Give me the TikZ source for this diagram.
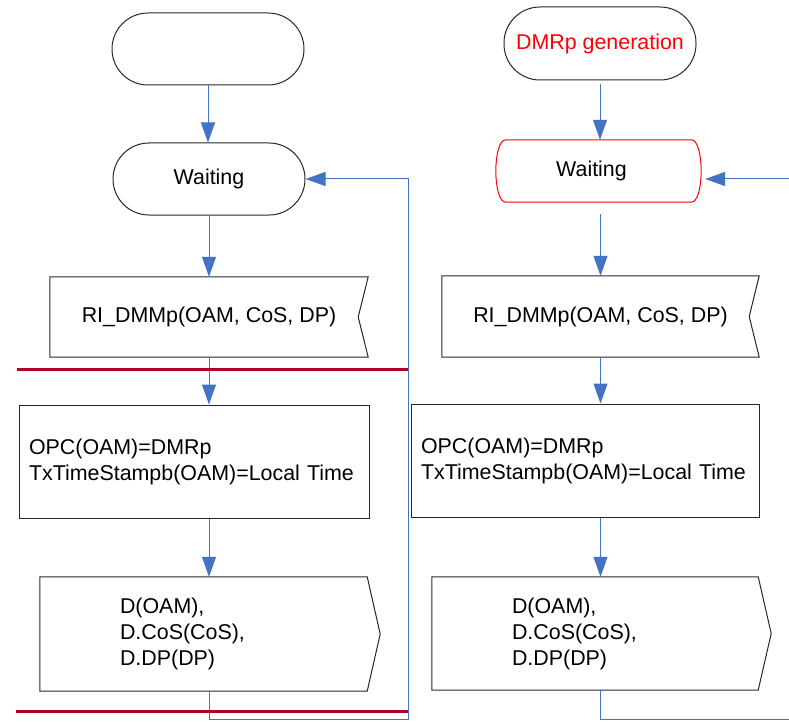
\documentclass[tikz,border=0pt]{standalone}
\usepackage{fontspec}
\setmainfont{Liberation Sans}
\usetikzlibrary{arrows.meta}
\definecolor{flowblue}{RGB}{68,114,196}
\definecolor{barred}{RGB}{176,0,42}
\definecolor{outl}{RGB}{40,40,40}
\tikzset{
  terminal/.style={draw=outl, line width=1pt, rounded corners=36pt, minimum width=192pt, minimum height=72pt, inner sep=0pt},
  shapebox/.style={draw=none, inner sep=0pt},
  outline/.style={draw=outl, line width=1pt},
  redoutline/.style={draw=red, line width=1pt},
  taskbox/.style={draw=outl, line width=1pt, align=left, inner xsep=10pt, inner ysep=0pt},
  sendbox/.style={draw=none, align=left, inner xsep=80pt, inner ysep=0pt},
  flow/.style={draw=flowblue, line width=1pt, -{Triangle[length=20pt,width=14pt]}},
  link/.style={draw=flowblue, line width=1pt},
  bar/.style={draw=barred, line width=3pt}
}
\begin{document}
\begin{tikzpicture}[x=1pt,y=-1pt, font=\fontsize{21.4pt}{26pt}\selectfont]
\useasboundingbox (0,0) rectangle (789,722);
\fill[white] (0,0) rectangle (789,722);

% ---------- left column ----------
\node[terminal] (s1) at (208,49) {};
\node[terminal] (w1) at (209,179) {Waiting};
\node[shapebox, minimum width=318pt, minimum height=80pt] (rx1) at (209,317) {RI\_DMMp(OAM, CoS, DP)};
\draw[outline] (rx1.north west) -- (rx1.north east) -- ([xshift=-10pt]rx1.east) -- (rx1.south east) -- (rx1.south west) -- cycle;
\node[taskbox, minimum width=350pt, minimum height=113pt, text width=330pt] (t1) at (194,461.5) {OPC(OAM)=DMRp\\TxTimeStampb(OAM)=Local Time};
\node[sendbox, minimum width=327pt, minimum height=114pt, text width=167pt] (d1) at (203.5,634) {D(OAM),\\D.CoS(CoS),\\D.DP(DP)};
\draw[outline] (d1.north west) -- (d1.north east) -- ([xshift=13pt]d1.east) -- (d1.south east) -- (d1.south west) -- cycle;

\draw[flow] (s1.south) -- (s1.south |- w1.north);
\draw[flow] (w1.south) -- (w1.south |- rx1.north);
\draw[flow] (rx1.south) -- (rx1.south |- t1.north);
\draw[flow] (rx1.south |- t1.south) -- (rx1.south |- d1.north);
\coordinate (c1) at (408,719);
\draw[flow] (rx1.south |- d1.south) |- (c1) |- (w1.east);

\coordinate (b1l) at (17,369);
\coordinate (b1r) at (408,369);
\draw[bar] (b1l) -- (b1r);
\coordinate (b2l) at (16,711);
\coordinate (b2r) at (408,711);
\draw[bar] (b2l) -- (b2r);

% ---------- right column ----------
\node[terminal, minimum height=73pt, text=red] (g2) at (600,43.5) {DMRp generation};
\node[shapebox, minimum width=205pt, minimum height=62pt] (w2) at (598.5,171) {\hspace*{-14pt}Waiting};
\draw[redoutline] ([xshift=10pt]w2.north west) -- ([xshift=-10pt]w2.north east)
  .. controls ([xshift=3.3pt]w2.north east) and ([xshift=3.3pt]w2.south east) .. ([xshift=-10pt]w2.south east)
  -- ([xshift=10pt]w2.south west)
  .. controls ([xshift=-3.3pt]w2.south west) and ([xshift=-3.3pt]w2.north west) .. ([xshift=10pt]w2.north west) -- cycle;
\node[shapebox, minimum width=317pt, minimum height=81pt] (rx2) at (600.5,316.5) {RI\_DMMp(OAM, CoS, DP)};
\draw[outline] (rx2.north west) -- (rx2.north east) -- ([xshift=-10pt]rx2.east) -- (rx2.south east) -- (rx2.south west) -- cycle;
\node[taskbox, minimum width=348pt, minimum height=113pt, text width=328pt] (t2) at (585,460.5) {OPC(OAM)=DMRp\\TxTimeStampb(OAM)=Local Time};
\node[sendbox, minimum width=326pt, minimum height=113pt, text width=166pt] (d2) at (595,633.5) {D(OAM),\\D.CoS(CoS),\\D.DP(DP)};
\draw[outline] (d2.north west) -- (d2.north east) -- ([xshift=13pt]d2.east) -- (d2.south east) -- (d2.south west) -- cycle;

\draw[flow, shorten <=4pt] (g2.south) -- (g2.south |- w2.north);
\coordinate (c2) at (789,179);
\draw[flow, shorten >=4pt] (c2) -- (c2 -| w2.east);
\draw[flow, shorten <=12pt] (w2.south -| rx2.north) -- (rx2.north);
\draw[flow] (rx2.south) -- (rx2.south |- t2.north);
\draw[flow] (rx2.south |- t2.south) -- (rx2.south |- d2.north);
\coordinate (c3) at (789,719);
\draw[link] (rx2.south |- d2.south) |- (c3);
\end{tikzpicture}
\end{document}
